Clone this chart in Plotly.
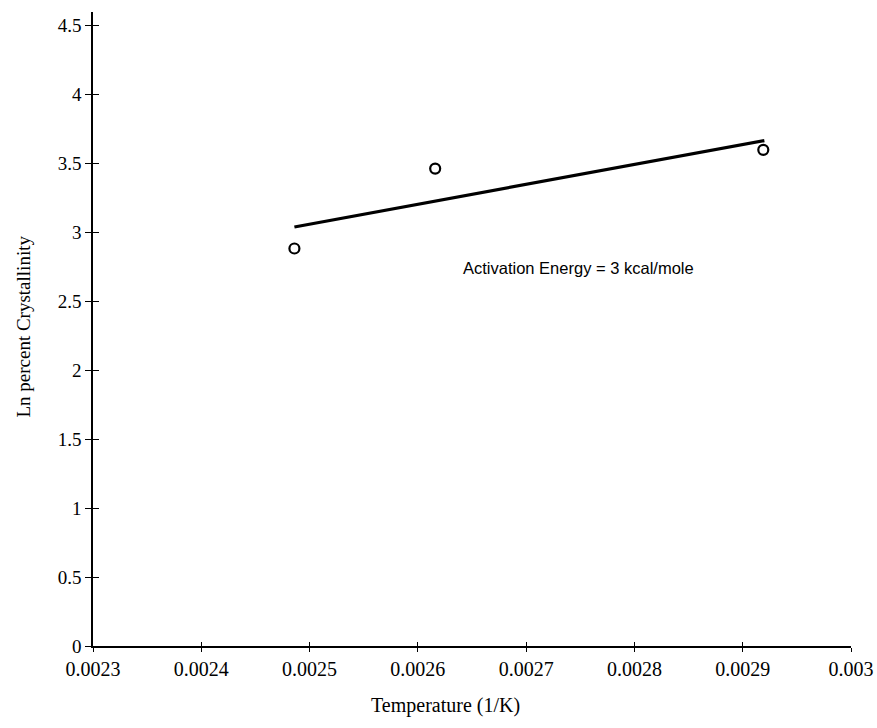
import plotly.graph_objects as go

# Data
temp_inv = [0.002486, 0.002616, 0.002919]
ln_cryst = [2.884, 3.464, 3.600]

fit_x = [0.002486, 0.002920]
fit_y = [3.04, 3.667]

x_tickvals = [0.0023, 0.0024, 0.0025, 0.0026, 0.0027, 0.0028, 0.0029, 0.003]
x_ticktext = ["0.0023", "0.0024", "0.0025", "0.0026", "0.0027", "0.0028", "0.0029", "0.003"]
y_tickvals = [0, 0.5, 1, 1.5, 2, 2.5, 3, 3.5, 4, 4.5]
y_ticktext = ["0", "0.5", "1", "1.5", "2", "2.5", "3", "3.5", "4", "4.5"]

annotation_text = "Activation Energy = 3 kcal/mole"
x_title = "Temperature (1/K)"
y_title = "Ln percent Crystallinity"

serif = "Liberation Serif, Times New Roman, serif"
sans = "Liberation Sans, Arial, sans-serif"

fig = go.Figure()
fig.add_trace(go.Scatter(x=fit_x, y=fit_y, mode="lines",
                         line=dict(color="black", width=3.2), showlegend=False))
fig.add_trace(go.Scatter(x=temp_inv, y=ln_cryst, mode="markers",
                         marker=dict(symbol="circle-open", size=10, color="black",
                                     line=dict(width=2.2, color="black")),
                         showlegend=False))
# invisible trace on overlay axes so inside ticks render
fig.add_trace(go.Scatter(x=[0.0023], y=[0], xaxis="x2", yaxis="y2", mode="markers",
                         marker=dict(opacity=0), showlegend=False, hoverinfo="skip"))

xr = [0.0023, 0.003]
yr = [0, 4.6]

fig.update_layout(
    width=877, height=728,
    margin=dict(l=93, r=26, t=12, b=82),
    paper_bgcolor="white", plot_bgcolor="white",
    font=dict(family=serif, color="black", size=18),
    xaxis=dict(range=xr, tickvals=x_tickvals, ticktext=x_ticktext, automargin=False,
               showline=True, linecolor="black", linewidth=1.5,
               ticks="outside", ticklen=4, tickwidth=1.2, tickcolor="black",
               showgrid=False, zeroline=False,
               tickfont=dict(family=serif, size=20)),
    yaxis=dict(range=yr, tickvals=y_tickvals, ticktext=y_ticktext, automargin=False,
               showline=True, linecolor="black", linewidth=1.5,
               ticks="outside", ticklen=6, tickwidth=1.2, tickcolor="black",
               showgrid=False, zeroline=False,
               tickfont=dict(family=serif, size=19)),
    xaxis2=dict(range=xr, overlaying="x", tickvals=x_tickvals, ticks="inside", automargin=False,
                ticklen=4, tickwidth=1.2, tickcolor="black", showticklabels=False,
                showgrid=False, zeroline=False, showline=False, side="bottom", anchor="y2"),
    yaxis2=dict(range=yr, overlaying="y", tickvals=y_tickvals, ticks="inside", automargin=False,
                ticklen=6, tickwidth=1.2, tickcolor="black", showticklabels=False,
                showgrid=False, zeroline=False, showline=False, side="left", anchor="x2"),
    annotations=[
        dict(x=0.002748, y=2.74, xref="x", yref="y", text=annotation_text,
             showarrow=False, font=dict(family=sans, size=16.5, color="black")),
        dict(x=0.465, y=-0.0945, xref="paper", yref="paper", text=x_title,
             showarrow=False, font=dict(family=serif, size=20, color="black"),
             xanchor="center", yanchor="middle"),
        dict(x=-0.0922, y=0.504, xref="paper", yref="paper", text=y_title,
             showarrow=False, textangle=-90,
             font=dict(family=serif, size=19, color="black"),
             xanchor="center", yanchor="middle"),
    ],
)

fig.write_html("out.html")
